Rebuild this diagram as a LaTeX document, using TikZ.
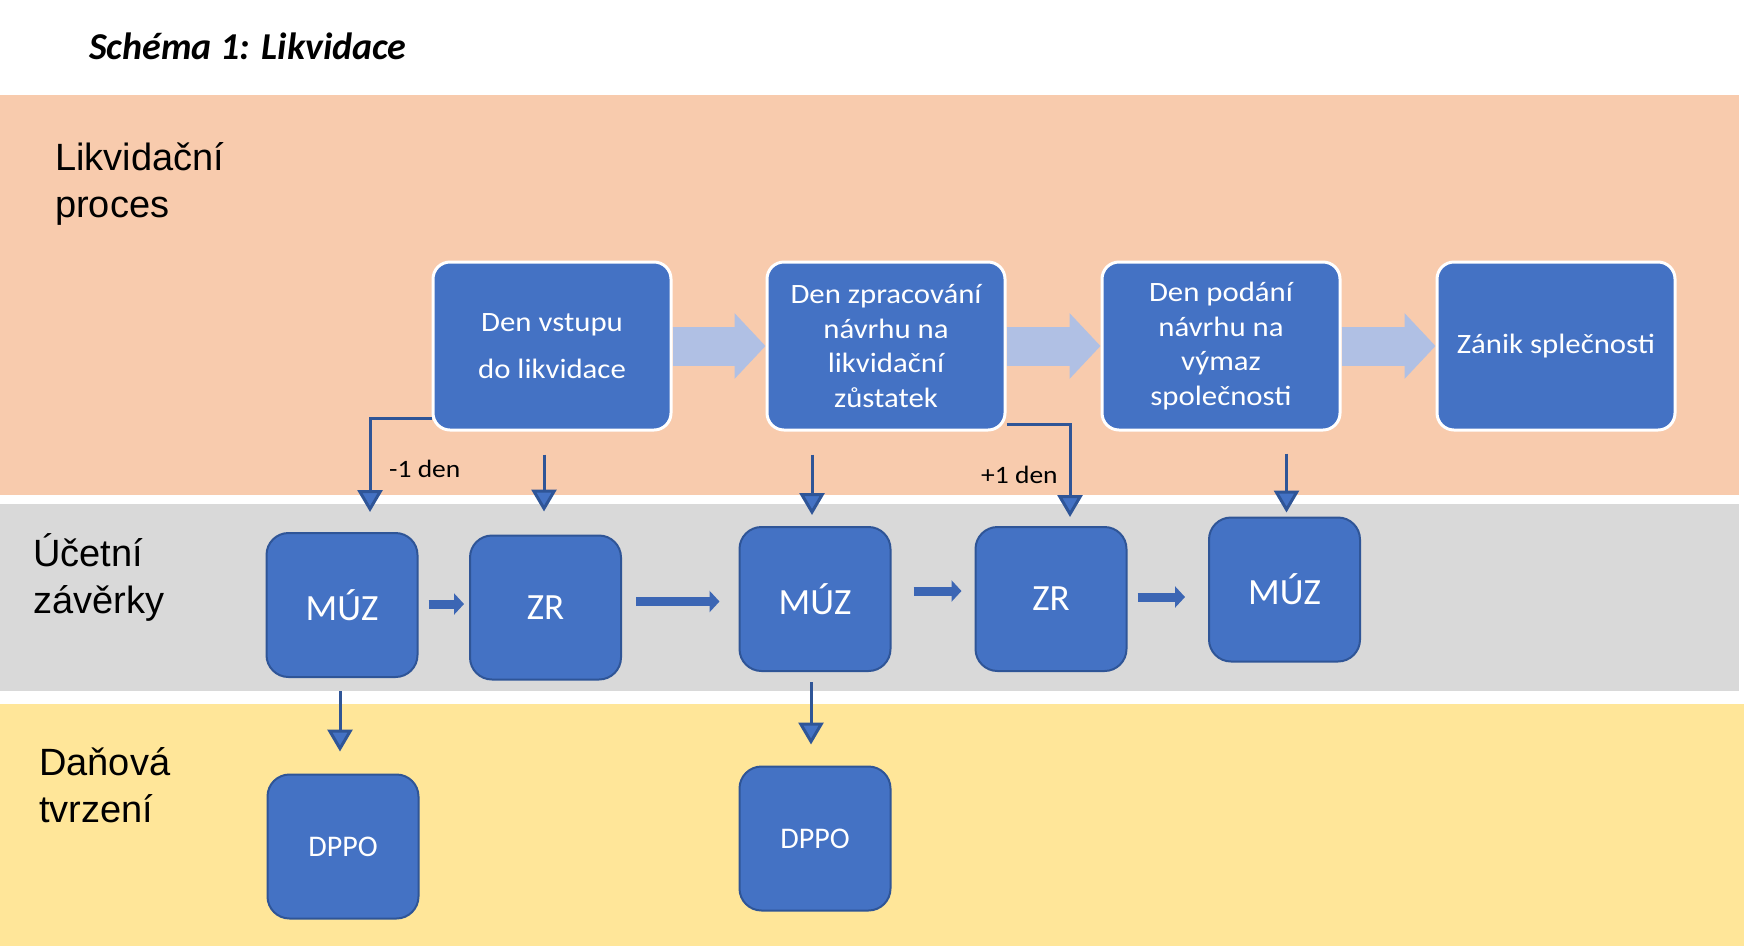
\documentclass[tikz,border=0pt]{standalone}
\usepackage{fontspec}
\setmainfont{Liberation Sans}
\newfontfamily\carl{Carlito}
\newfontfamily\carlw[FakeStretch=1.1]{Carlito}
\usetikzlibrary{arrows.meta}
\definecolor{bandorange}{HTML}{F8CBAD}
\definecolor{bandgray}{HTML}{D9D9D9}
\definecolor{bandyellow}{HTML}{FFE699}
\definecolor{boxblue}{HTML}{4472C4}
\definecolor{darkblue}{HTML}{2F5597}
\definecolor{lightarrow}{HTML}{B0C0E4}
\definecolor{blockblue}{HTML}{3C66B4}
\begin{document}
\begin{tikzpicture}[x=1pt,y=-1pt,
  bandlabel/.style={anchor=base west, align=left, inner sep=0pt, text=black,
    font=\fontsize{38}{46.5}\selectfont},
  topbox/.style={rectangle, rounded corners=17pt, fill=boxblue, draw=white, line width=3pt,
    minimum width=238pt, minimum height=168pt, inner sep=0pt, text=white, align=center,
    font=\carlw\fontsize{28}{34.5}\selectfont},
  lowbox/.style={rectangle, rounded corners=22pt, fill=boxblue, draw=darkblue, line width=2pt,
    minimum width=151pt, minimum height=144pt, inner sep=0pt, text=white,
    font=\carl\fontsize{37}{44}\selectfont},
  dppobox/.style={lowbox, font=\carl\fontsize{30}{36}\selectfont},
  lightarr/.style={draw=lightarrow, line width=39pt, -{Triangle[length=31pt,width=64pt]}},
  varrow/.style={draw=darkblue, line width=3pt, -{Triangle[length=22pt,width=25pt,fill=boxblue]}},
  blockarr/.style={draw=blockblue, line width=9pt, -{Triangle[length=10pt,width=21pt]}},
  daylabel/.style={anchor=base west, inner sep=0pt, text=black, font=\carlw\fontsize{25}{30}\selectfont}
]
\useasboundingbox (0,0) rectangle (1744,946);
\fill[white] (0,0) rectangle (1744,946);
\fill[bandorange] (0,94.5) rectangle (1739,495);
\fill[bandgray] (0,504) rectangle (1739,691);
\fill[bandyellow] (0,704) rectangle (1744,946);

\node[anchor=base west, inner sep=0pt, font=\carl\bfseries\itshape\fontsize{38}{46}\selectfont] (title) at (89,59) {Schéma 1: Likvidace};

\node[bandlabel] (l1) at (55,217) {Likvidační\\proces};
\node[bandlabel] (l2) at (33,613) {Účetní\\závěrky};
\node[bandlabel] (l3) at (39,822) {Daňová\\tvrzení};

% top row
\node[topbox] (b1) at (552,346) {Den vstupu\\[12pt]do likvidace};
\node[topbox] (b2) at (886,346) {Den zpracování\\návrhu na\\likvidační\\zůstatek};
\node[topbox] (b3) at (1221,346) {Den podání\\návrhu na\\výmaz\\společnosti};
\node[topbox] (b4) at (1556,346) {Zánik splečnosti};

\draw[lightarr] (b1.east) -- (b2.west);
\draw[lightarr] (b2.east) -- (b3.west);
\draw[lightarr] (b3.east) -- (b4.west);

% accounting row
\node[lowbox] (m1) at (342,605) {MÚZ};
\node[lowbox] (z1) at (545.5,607.5) {ZR};
\node[lowbox] (m2) at (815,599) {MÚZ};
\node[lowbox] (z2) at (1051,599) {ZR};
\node[lowbox] (m3) at (1284.5,589.5) {MÚZ};

% tax row
\node[dppobox] (d1) at (343,846.5) {DPPO};
\node[dppobox] (d2) at (815,838.5) {DPPO};

% vertical connectors from process to statements
\coordinate (e1) at ([yshift=13pt]b1.south west);
\coordinate (t1) at ([xshift=28pt,yshift=20pt]m1.north);
\draw[varrow] (e1) -| (t1);
\coordinate (s2) at ([yshift=-23pt]b1.south);
\coordinate (t2) at ([xshift=-1.5pt,yshift=23pt]z1.north);
\draw[varrow] (s2 -| t2) -- (t2);
\coordinate (s3) at ([yshift=-23pt]b2.south);
\coordinate (t3) at ([xshift=-3pt,yshift=11pt]m2.north);
\draw[varrow] (s3 -| t3) -- (t3);
\coordinate (e4) at ([yshift=7pt]b2.south east);
\coordinate (t4) at ([xshift=19pt,yshift=9pt]z2.north);
\draw[varrow] (e4) -| (t4);
\coordinate (s5) at ([yshift=-22pt]b3.south);
\coordinate (t5) at ([xshift=2pt,yshift=4pt]m3.north);
\draw[varrow] (s5 -| t5) -- (t5);

\node[daylabel] (minus) at (389,477) {-1 den};
\node[daylabel] (plus) at (981,483) {+1 den};

% statements to tax returns
\coordinate (s6) at ([xshift=-2pt,yshift=-13pt]m1.south);
\coordinate (t6) at ([yshift=22pt]d1.north);
\draw[varrow] (s6) -- (s6 |- t6);
\coordinate (s7) at ([xshift=-4pt,yshift=-10pt]m2.south);
\coordinate (t7) at ([yshift=21pt]d2.north);
\draw[varrow] (s7) -- (s7 |- t7);

% block arrows between statements
\coordinate (h1) at ([xshift=10pt,yshift=1pt]m1.east);
\coordinate (k1) at ([xshift=-5pt]z1.west);
\draw[blockarr] (h1) -- (k1 |- h1);
\coordinate (h2) at ([xshift=14pt,yshift=6pt]z1.east);
\coordinate (k2) at ([xshift=-19pt]m2.west);
\draw[blockarr] (h2) -- (k2 |- h2);
\coordinate (h3) at ([xshift=22pt,yshift=8pt]m2.east);
\coordinate (k3) at ([xshift=-13pt]z2.west);
\draw[blockarr] (h3) -- (k3 |- h3);
\coordinate (h4) at ([xshift=10pt,yshift=2pt]z2.east);
\coordinate (k4) at ([xshift=-23pt]m3.west);
\draw[blockarr] (h4) -- (k4 |- h4);
\end{tikzpicture}
\end{document}
